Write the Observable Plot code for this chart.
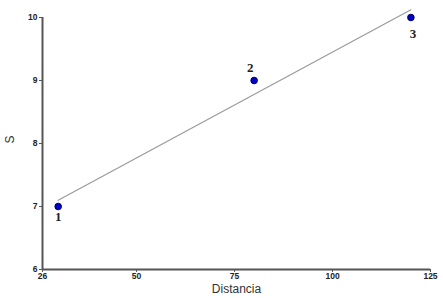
<!DOCTYPE html>
<html>
<head>
<meta charset="utf-8">
<script src="https://cdn.jsdelivr.net/npm/d3@7"></script>
<script src="https://cdn.jsdelivr.net/npm/@observablehq/plot@0.6"></script>
<style>
  html, body { margin: 0; padding: 0; background: #fff; }
</style>
</head>
<body>
<div id="chart"></div>
<script>
const distancia = [30, 80, 120];
const sValues = [7, 9, 10];
const pointLabels = ["1", "2", "3"];
const xTicks = [26, 50, 75, 100, 125];
const yTicks = [6, 7, 8, 9, 10];

const data = distancia.map((d, i) => ({x: d, y: sValues[i], label: pointLabels[i]}));
const labelFont = {fontSize: 13, fontWeight: "bold", fill: "#222", fontFamily: "Liberation Serif, Times New Roman, serif"};
const tickFont = {fontSize: 8.5, fontWeight: "bold", fill: "#222", fontFamily: "Liberation Sans, Arial, sans-serif"};

const chart = Plot.plot({
  width: 443,
  height: 298,
  marginLeft: 42,
  marginRight: 13,
  marginTop: 17,
  marginBottom: 29,
  style: {background: "#fff"},
  x: {domain: [26, 125]},
  y: {domain: [6, 10]},
  marks: [
    Plot.linearRegressionY(data, {x: "x", y: "y", stroke: "#9a9a9a", strokeWidth: 1.2, ci: 0}),
    Plot.ruleY([6], {stroke: "#555", strokeWidth: 2}),
    Plot.ruleX([26], {stroke: "#555", strokeWidth: 2}),
    Plot.axisX({ticks: xTicks, tickFormat: "d", tickSize: 3, tickPadding: 0, stroke: "#555", ...tickFont, label: null}),
    Plot.axisY({ticks: yTicks, tickFormat: "d", tickSize: 3, tickPadding: 2, stroke: "#555", ...tickFont, label: null}),
    Plot.text(["S"], {frameAnchor: "left", dx: -32, rotate: -90, fontSize: 12, fill: "#333", fontFamily: "Liberation Sans, Arial, sans-serif"}),
    Plot.text(["Distancia"], {frameAnchor: "bottom", lineAnchor: "middle", dy: 20, fontSize: 12, fill: "#333", fontFamily: "Liberation Sans, Arial, sans-serif"}),
    Plot.dot(data, {x: "x", y: "y", r: 3.3, fill: "#0000cc", stroke: "#00005a", strokeWidth: 1}),
    Plot.text(data.filter(d => d.label === "1"), {x: "x", y: "y", text: "label", dy: 10, ...labelFont}),
    Plot.text(data.filter(d => d.label === "2"), {x: "x", y: "y", text: "label", dy: -13, dx: -4, ...labelFont}),
    Plot.text(data.filter(d => d.label === "3"), {x: "x", y: "y", text: "label", dy: 16, dx: 2, ...labelFont})
  ]
});
document.getElementById("chart").appendChild(chart);
</script>
</body>
</html>
